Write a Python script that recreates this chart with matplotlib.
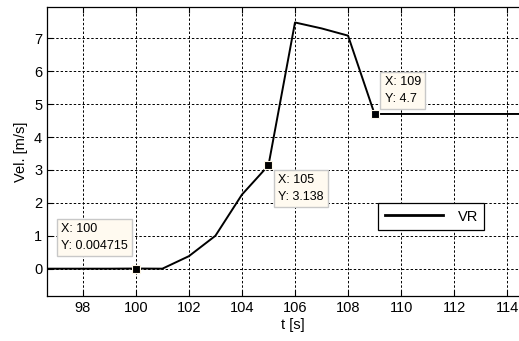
import matplotlib.pyplot as plt

# velocity samples
t = [96, 97, 98, 99, 100, 101, 102, 103, 104, 105, 106, 107, 108, 109, 110, 111, 112, 113, 114, 115, 116]
vr = [0, 0, 0, 0, 0.004715, 0, 0.38, 1.0, 2.25, 3.138, 7.48, 7.3, 7.08, 4.7, 4.7, 4.7, 4.7, 4.7, 4.7, 4.7, 4.7]

tip_x = [100, 105, 109]
tip_y = [0.004715, 3.138, 4.7]
tip_txt = ["X: 100\nY: 0.004715", "X: 105\nY: 3.138", "X: 109\nY: 4.7"]
tip_off = [(-8, 17), (10, -9), (10, 9)]
tip_align = [("right", "bottom"), ("left", "top"), ("left", "bottom")]

xticks = [98, 100, 102, 104, 106, 108, 110, 112, 114]
yticks = [0, 1, 2, 3, 4, 5, 6, 7]

plt.rcParams['font.family'] = ['Liberation Sans Narrow', 'Liberation Sans', 'DejaVu Sans']

W, H = 519, 341
fig = plt.figure(figsize=(W / 100, H / 100), dpi=100)
ax = fig.add_axes([47 / W, 1 - 296 / H, (539 - 47) / W, (296 - 7) / H])

ax.plot(t, vr, color="black", lw=1.4, label="VR")
ax.set_xlim(96.65, 115.2)
ax.set_ylim(-0.83, 7.95)
ax.set_xticks(xticks)
ax.set_yticks(yticks)
ax.grid(True, color="black", linestyle=(0, (2.5, 2)), linewidth=0.7)
ax.tick_params(direction="in", top=True, right=True, labelsize=10.5, length=4, width=0.8)
for s in ax.spines.values():
    s.set_linewidth(0.9)

ax.set_xlabel("t [s]", fontsize=10.5, labelpad=2)
ax.set_ylabel("Vel. [m/s]", fontsize=10.5, labelpad=4)

ax.plot(tip_x, tip_y, "s", color="black", markersize=6, markeredgecolor="#fff8e8",
        markeredgewidth=0.8, zorder=5)
for x, y, s, off, al in zip(tip_x, tip_y, tip_txt, tip_off, tip_align):
    ax.annotate(s, (x, y), xytext=off, textcoords="offset pixels",
                ha=al[0], va=al[1], multialignment="left", fontsize=9, linespacing=1.5,
                bbox=dict(boxstyle="square,pad=0.35", fc="#fffaf0", ec="#c8c8c8", lw=1),
                zorder=6)

leg = ax.legend(loc="upper left", bbox_to_anchor=(378 / W, 1 - 203 / H),
                bbox_transform=fig.transFigure, borderaxespad=0, fancybox=False,
                edgecolor="black", framealpha=1, fontsize=10.5, handlelength=4.0,
                borderpad=0.45, handletextpad=1.0)
leg.get_frame().set_linewidth(0.9)
leg.get_lines()[0].set_linewidth(2)

fig.savefig("out.png", dpi=100)
